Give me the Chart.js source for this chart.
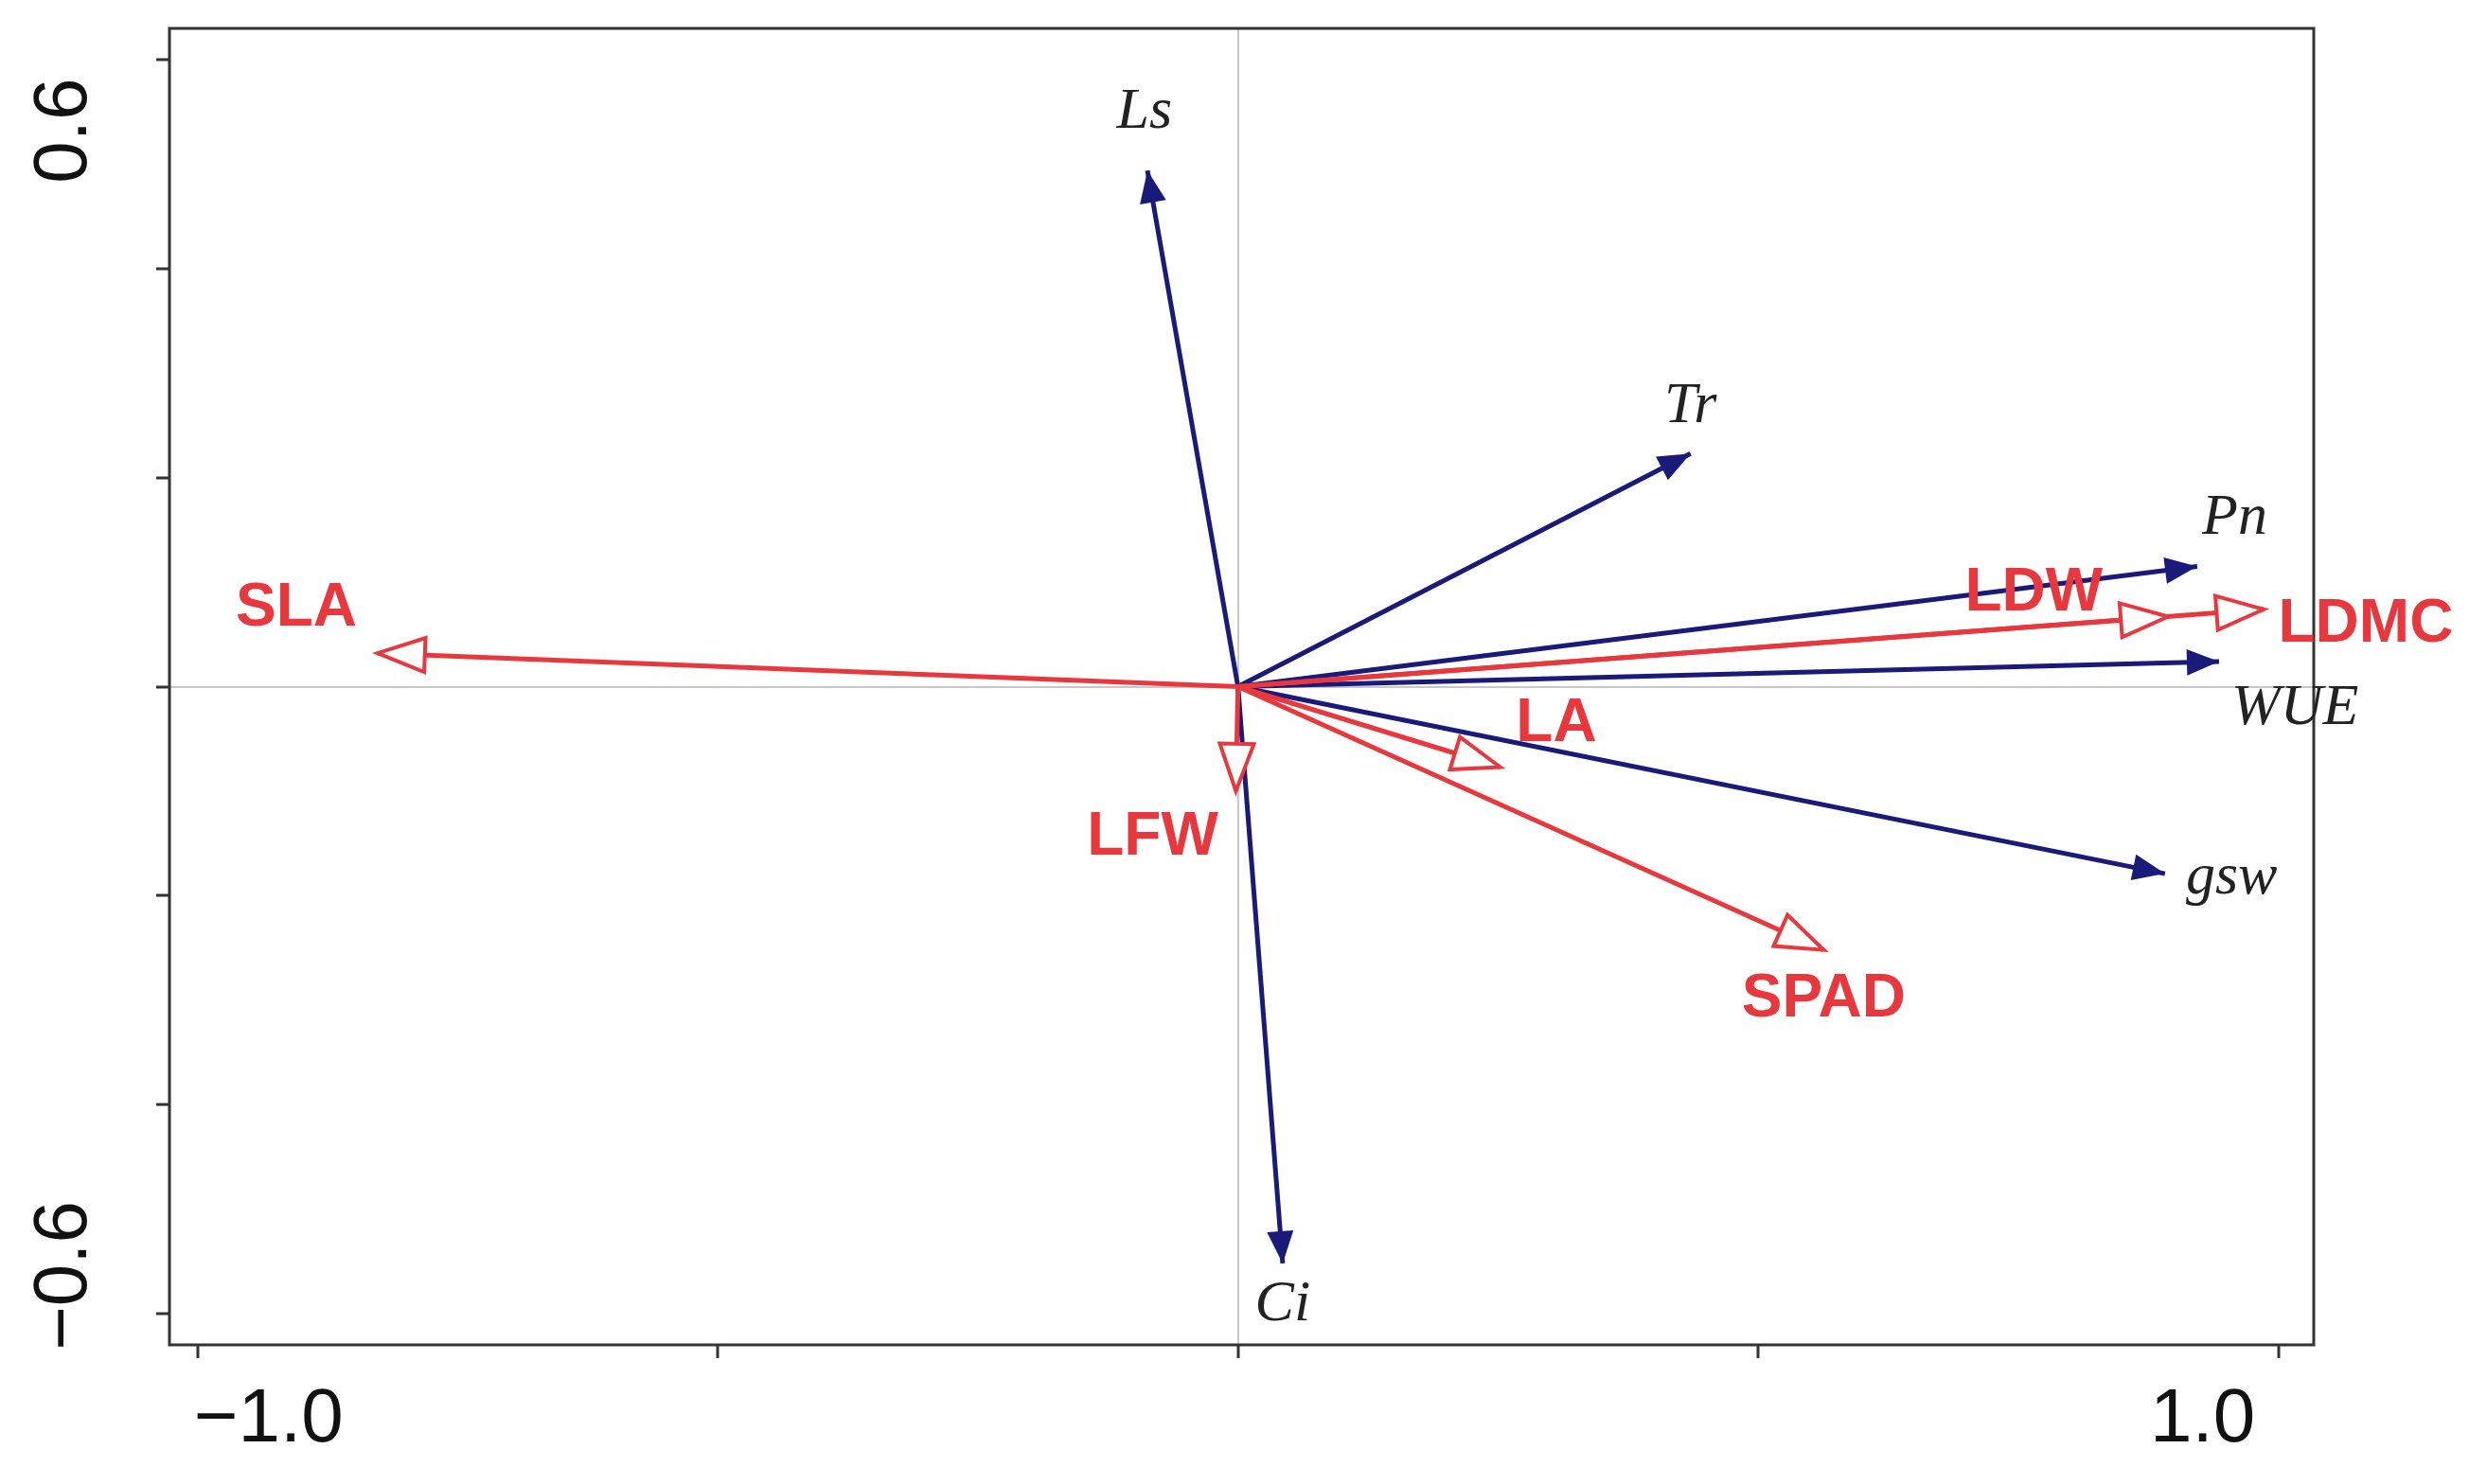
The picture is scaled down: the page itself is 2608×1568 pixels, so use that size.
<!DOCTYPE html>
<html>
<head>
<meta charset="utf-8">
<script src="https://cdn.jsdelivr.net/npm/chart.js@4"></script>
<style>
  html, body { margin: 0; padding: 0; background: #fff; }
  #wrap { width: 2608px; height: 1568px; }
</style>
</head>
<body>
<div id="wrap"><canvas id="biplot"></canvas></div>
<script>
// physiological traits (blue, filled heads)
const physNames = ['Ls', 'Tr', 'Pn', 'WUE', 'gsw', 'Ci'];
const physX = [-0.087, 0.435, 0.922, 0.943, 0.891, 0.043];
const physY = [0.494, 0.223, 0.115, 0.024, -0.179, -0.552];
const physLabelX = [-0.09, 0.435, 0.958, 1.016, 0.955, 0.043];
const physLabelY = [0.55, 0.268, 0.161, -0.021, -0.183, -0.592];

// morphological traits (red, open heads)
const morphNames = ['SLA', 'LDW', 'LDMC', 'LA', 'LFW', 'SPAD'];
const morphX = [-0.827, 0.894, 0.986, 0.252, -0.002, 0.563];
const morphY = [0.032, 0.067, 0.074, -0.077, -0.100, -0.252];
const morphLabelX = [-0.905, 0.765, 1.084, 0.306, -0.082, 0.563];
const morphLabelY = [0.074, 0.089, 0.059, -0.036, -0.145, -0.30];

const xTicks = [-1.0, -0.5, 0, 0.5, 1.0];
const yTicks = [-0.6, -0.4, -0.2, 0, 0.2, 0.4, 0.6];
const xTickLabels = { '-1': '\u22121.0', '1': '1.0' };
const yTickLabels = { '-0.6': '\u22120.6', '0.6': '0.6' };
// label shifts along the axis, in pixels
const xTickShift = { '-1': 75, '1': -80 };
const yTickShift = { '-0.6': -40, '0.6': 75 };

const BLUE = '#1a1a7a';
const RED = '#e8383d';

function vectorSets(names, xs, ys, color) {
  return names.map((n, i) => ({
    label: n,
    data: [{ x: 0, y: 0 }, { x: xs[i], y: ys[i] }],
    borderColor: color,
    borderWidth: 5,
    pointRadius: 0,
    showLine: true,
    fill: false
  }));
}

const arrowPlugin = {
  id: 'arrows',
  afterDatasetsDraw(chart) {
    const { ctx, scales: { x, y }, chartArea: a } = chart;
    ctx.save();
    // frame
    ctx.strokeStyle = '#333';
    ctx.lineWidth = 3;
    ctx.strokeRect(a.left, a.top, a.right - a.left, a.bottom - a.top);

    function head(x0, y0, x1, y1, color, filled, len, half) {
      const ang = Math.atan2(y1 - y0, x1 - x0);
      ctx.beginPath();
      ctx.moveTo(x1, y1);
      ctx.lineTo(x1 - len * Math.cos(ang) + half * Math.sin(ang), y1 - len * Math.sin(ang) - half * Math.cos(ang));
      ctx.lineTo(x1 - len * Math.cos(ang) - half * Math.sin(ang), y1 - len * Math.sin(ang) + half * Math.cos(ang));
      ctx.closePath();
      ctx.lineWidth = 4;
      if (filled) { ctx.fillStyle = color; ctx.fill(); }
      else { ctx.fillStyle = '#fff'; ctx.fill(); ctx.strokeStyle = color; ctx.stroke(); }
    }
    const ox = x.getPixelForValue(0), oy = y.getPixelForValue(0);
    physX.forEach((v, i) => head(ox, oy, x.getPixelForValue(v), y.getPixelForValue(physY[i]), BLUE, true, 34, 14));
    morphX.forEach((v, i) => head(ox, oy, x.getPixelForValue(v), y.getPixelForValue(morphY[i]), RED, false, 50, 18));

    ctx.textAlign = 'center';
    ctx.textBaseline = 'middle';
    ctx.fillStyle = '#222';
    ctx.font = 'italic 62px "Liberation Serif", serif';
    physNames.forEach((n, i) => ctx.fillText(n, x.getPixelForValue(physLabelX[i]), y.getPixelForValue(physLabelY[i])));
    ctx.fillStyle = RED;
    ctx.font = 'bold 64px "Liberation Sans", Arial, sans-serif';
    morphNames.forEach((n, i) => ctx.fillText(n, x.getPixelForValue(morphLabelX[i]), y.getPixelForValue(morphLabelY[i])));

    // tick labels
    ctx.fillStyle = '#111';
    ctx.font = '80px "Liberation Sans", Arial, sans-serif';
    ctx.textBaseline = 'top';
    Object.keys(xTickLabels).forEach(k => ctx.fillText(xTickLabels[k], x.getPixelForValue(+k) + xTickShift[k], a.bottom + 40));
    Object.keys(yTickLabels).forEach(k => {
      ctx.save();
      ctx.translate(a.left - 150, y.getPixelForValue(+k) + yTickShift[k]);
      ctx.rotate(-Math.PI / 2);
      ctx.textBaseline = 'top';
      ctx.fillText(yTickLabels[k], 0, 0);
      ctx.restore();
    });
    ctx.restore();
  }
};

const zeroGrid = c => (c.tick && c.tick.value === 0) ? '#c8c8c8' : 'rgba(0,0,0,0)';

new Chart(document.getElementById('biplot'), {
  type: 'scatter',
  data: { datasets: [...vectorSets(morphNames, morphX, morphY, RED), ...vectorSets(physNames, physX, physY, BLUE)] },
  options: {
    responsive: true,
    maintainAspectRatio: false,
    animation: false,
    layout: { padding: { top: 30, right: 164, left: 0, bottom: 0 } },
    plugins: { legend: { display: false }, tooltip: { enabled: false } },
    scales: {
      x: {
        type: 'linear', min: -1.027, max: 1.034,
        afterBuildTicks: s => { s.ticks = xTicks.map(v => ({ value: v })); },
        afterFit: s => { s.height = 147; },
        ticks: { display: false },
        border: { display: false },
        grid: { color: zeroGrid, lineWidth: 2, tickColor: '#333', tickLength: 14, tickWidth: 3 }
      },
      y: {
        type: 'linear', min: -0.63, max: 0.63,
        afterBuildTicks: s => { s.ticks = yTicks.map(v => ({ value: v })); },
        afterFit: s => { s.width = 179; },
        ticks: { display: false },
        border: { display: false },
        grid: { color: zeroGrid, lineWidth: 2, tickColor: '#333', tickLength: 14, tickWidth: 3 }
      }
    }
  },
  plugins: [arrowPlugin]
});
</script>
</body>
</html>
